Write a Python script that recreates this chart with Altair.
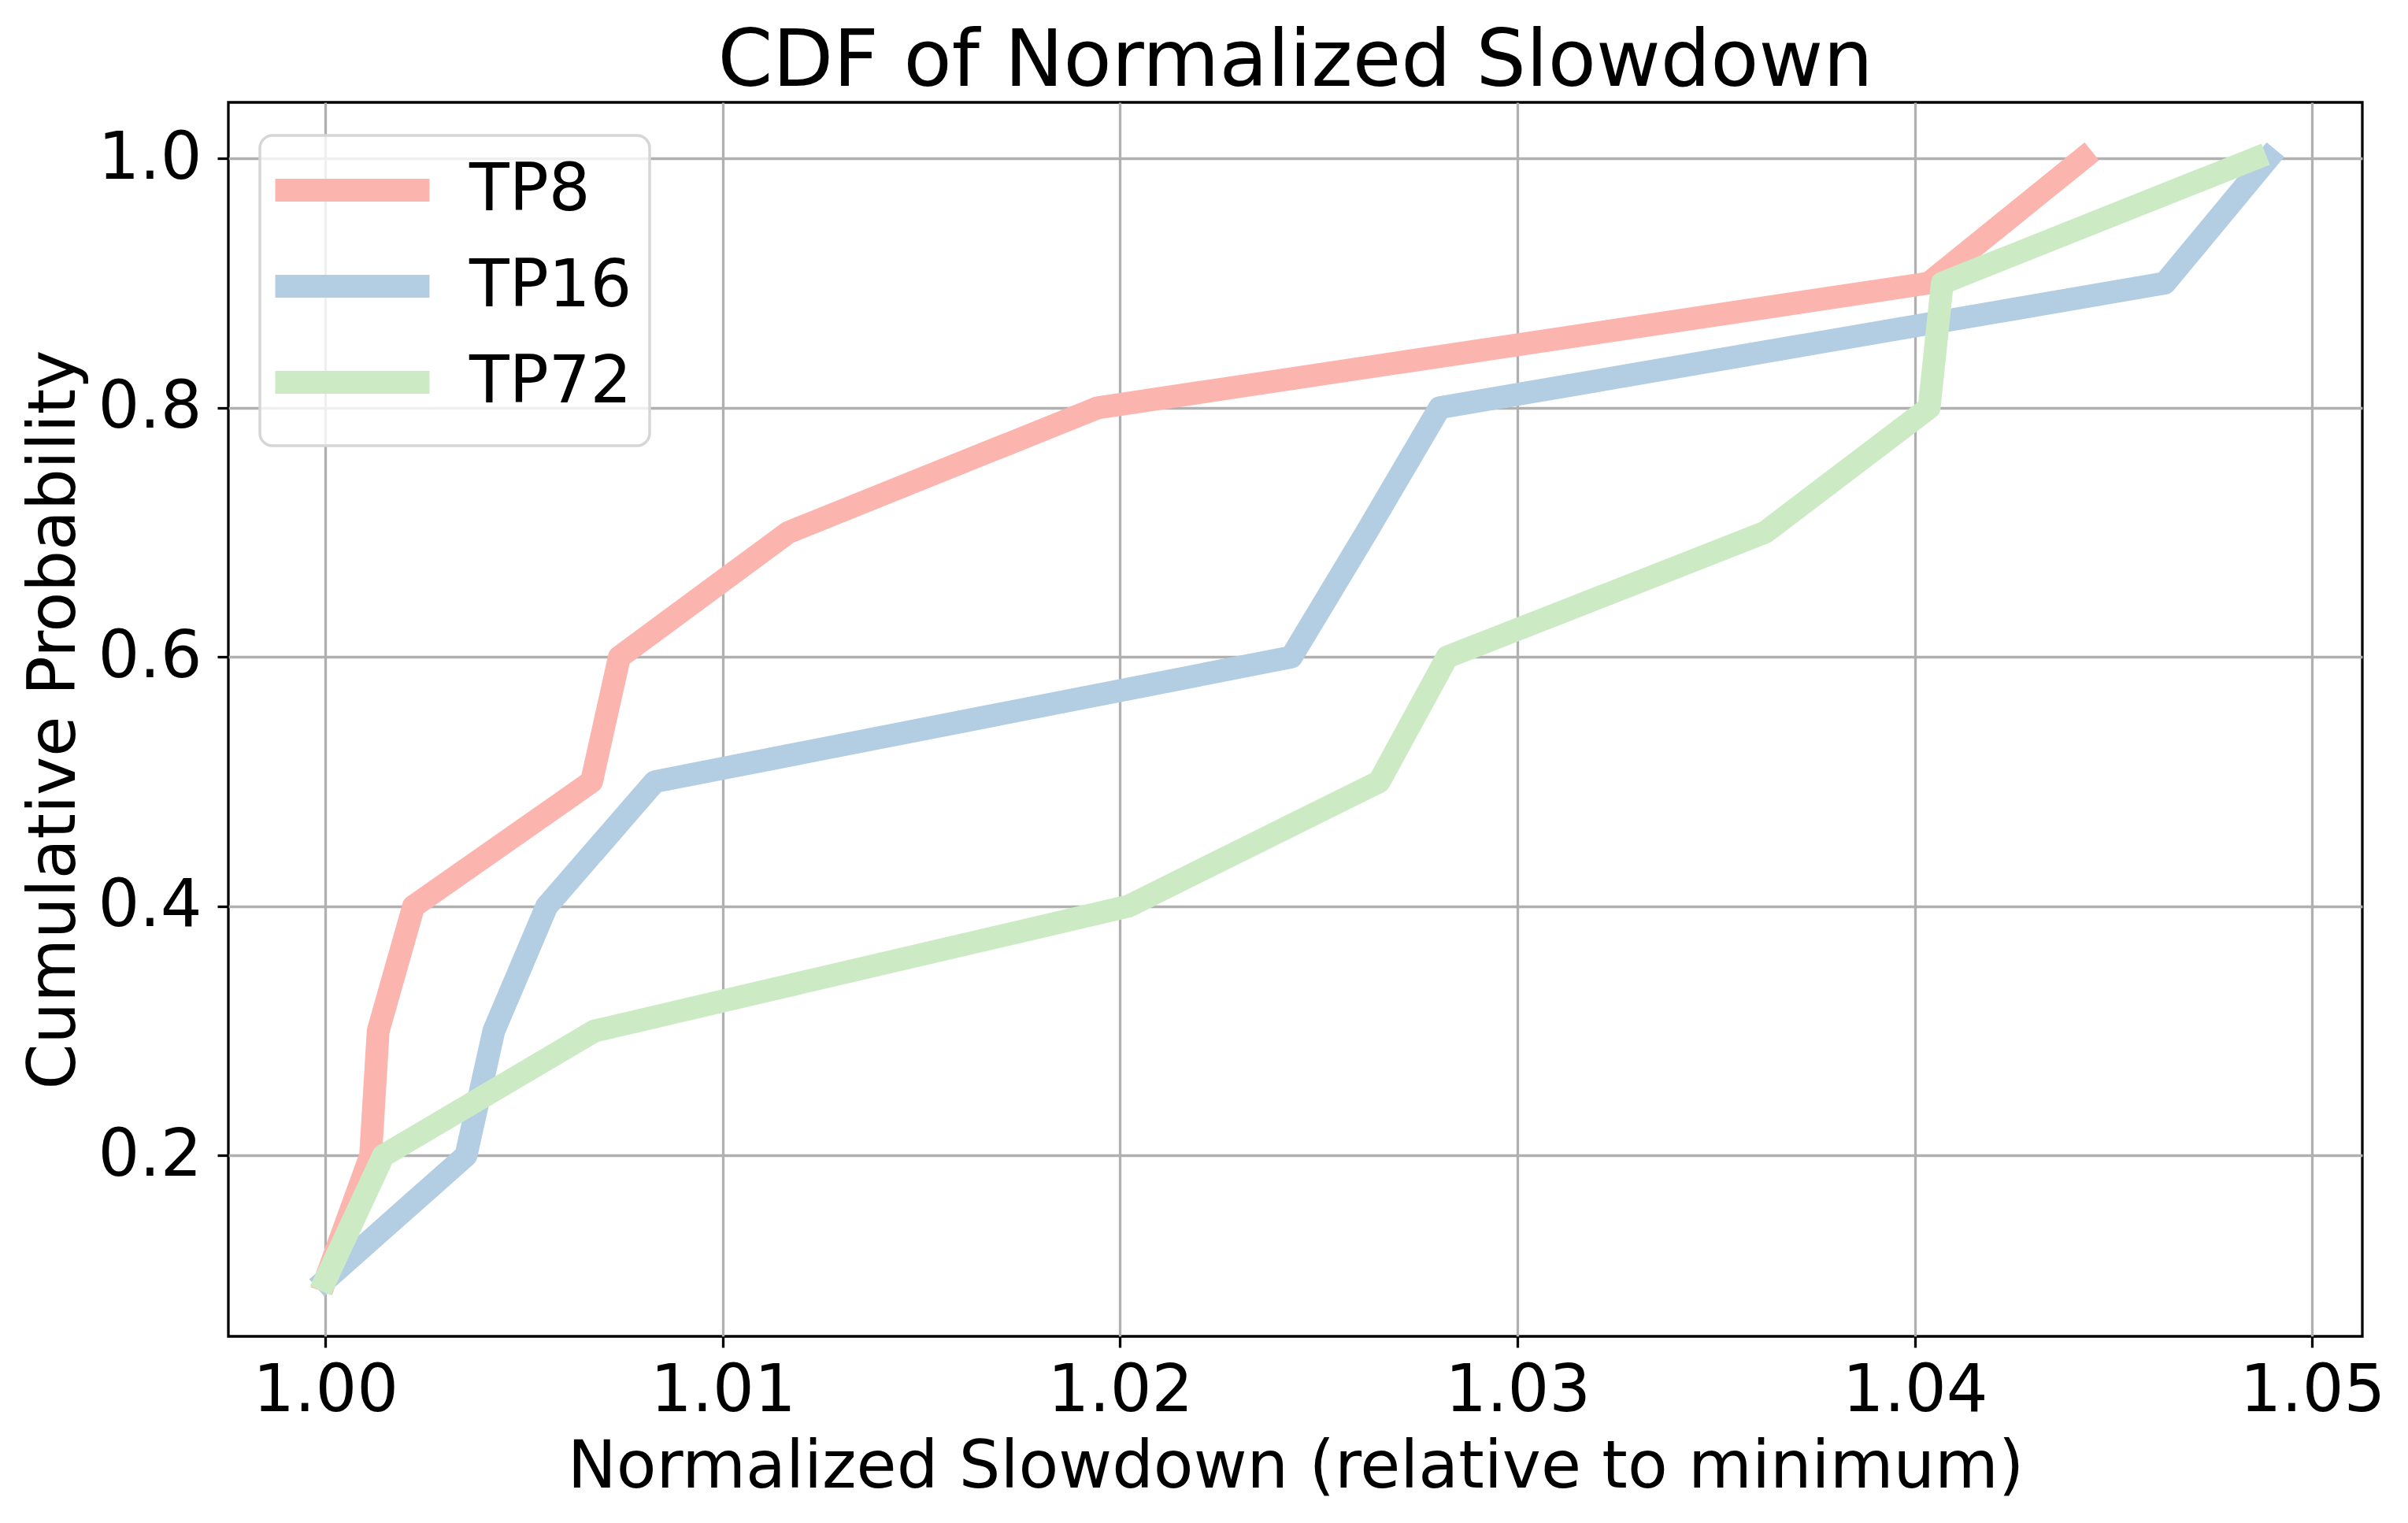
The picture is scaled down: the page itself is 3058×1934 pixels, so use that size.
import altair as alt
import pandas as pd

series_names = ["TP8", "TP16", "TP72"]
cdf_values = [0.1, 0.2, 0.3, 0.4, 0.5, 0.6, 0.7, 0.8, 0.9, 1.0]
tp8_slowdown = [1.0000, 1.00114, 1.00133, 1.00222, 1.0067, 1.0074, 1.01165, 1.01944, 1.04035, 1.04423]
tp16_slowdown = [1.0000, 1.00354, 1.00424, 1.00557, 1.00829, 1.02431, 1.0262, 1.02804, 1.04629, 1.04889]
tp72_slowdown = [1.0000, 1.00146, 1.00677, 1.0202, 1.02652, 1.02823, 1.03623, 1.04036, 1.04069, 1.04856]
colors = ["#FBB4AE", "#B3CDE3", "#CCEBC5"]
x_ticks = [1.00, 1.01, 1.02, 1.03, 1.04, 1.05]
y_ticks = [0.2, 0.4, 0.6, 0.8, 1.0]

rows = []
for name, xs in zip(series_names, [tp8_slowdown, tp16_slowdown, tp72_slowdown]):
    for i, (xv, yv) in enumerate(zip(xs, cdf_values)):
        rows.append({"series": name, "slowdown": xv, "cdf": yv, "idx": i})
df = pd.DataFrame(rows)

FONT = "DejaVu Sans"

chart = alt.Chart(df).mark_line(
    strokeWidth=29, strokeCap="square", strokeJoin="round"
).encode(
    x=alt.X("slowdown:Q",
            scale=alt.Scale(domain=[0.99756, 1.05126], nice=False, zero=False),
            axis=alt.Axis(values=x_ticks, format=".2f",
                          title="Normalized Slowdown (relative to minimum)")),
    y=alt.Y("cdf:Q",
            scale=alt.Scale(domain=[0.055, 1.045], nice=False, zero=False),
            axis=alt.Axis(values=y_ticks, format=".1f", title="Cumulative Probability")),
    color=alt.Color("series:N",
                    scale=alt.Scale(domain=series_names, range=colors),
                    legend=alt.Legend(
                        title=None, orient="none", legendX=40, legendY=42,
                        symbolType="M-3,0H3", symbolSize=4267, symbolStrokeWidth=29,
                        symbolOffset=48, labelOffset=101, rowPadding=5,
                        labelFontSize=83, labelFont=FONT, labelColor="black",
                        labelLimit=500,
                        padding=22, strokeColor="#d6d6d6",
                        fillColor="rgba(255,255,255,0.8)", cornerRadius=16,
                    )),
    order=alt.Order("idx:Q"),
    detail="series:N",
).properties(
    width=2710,
    height=1567,
    title=alt.Title("CDF of Normalized Slowdown", fontSize=100, font=FONT,
                    fontWeight="normal", color="black", anchor="middle",
                    baseline="alphabetic", offset=4, dy=83),
    padding={"left": 282, "top": 122, "right": 50, "bottom": 229},
    autosize=alt.AutoSizeParams(type="none"),
    background="white",
).configure_view(
    stroke="black", strokeWidth=3.3
).configure_axis(
    labelFont=FONT, labelFontSize=83, labelColor="black", labelLimit=600,
    titleFont=FONT, titleFontSize=83, titleFontWeight="normal", titleColor="black",
    titleLimit=3000,
    grid=True, gridColor="#b0b0b0", gridWidth=3.3,
    domain=False, tickColor="black", tickWidth=3.3, tickSize=14,
).configure_axisX(
    labelPadding=14, titlePadding=14,
).configure_axisY(
    labelPadding=20, titlePadding=13,
).configure_legend(
    strokeWidth=3.5,
)

chart.save("out.html", embed_options={"renderer": "svg", "actions": False})
